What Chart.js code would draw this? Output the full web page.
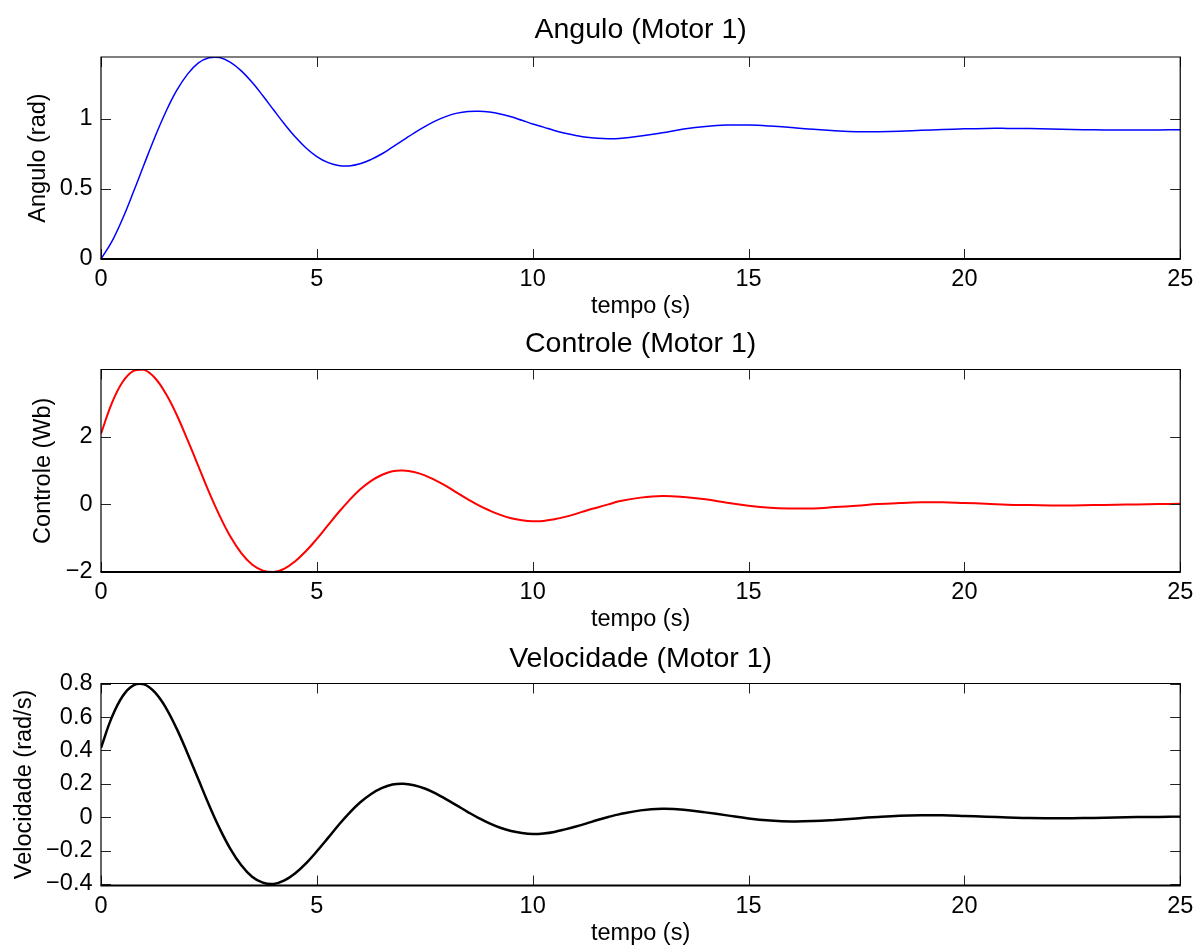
<!DOCTYPE html>
<html><head><meta charset="utf-8">
<script src="https://cdn.jsdelivr.net/npm/chart.js@4.4.1/dist/chart.umd.min.js"></script>
<style>
html,body{margin:0;padding:0;background:#fff;width:1200px;height:952px;overflow:hidden}
canvas{position:absolute;left:0;top:0}
</style></head><body>
<canvas id="c1" width="1200" height="952"></canvas>
<canvas id="c2" width="1200" height="952"></canvas>
<canvas id="c3" width="1200" height="952"></canvas>
<script>
// ---- data ----
const tempo = [0,0.25,0.5,0.75,1,1.25,1.5,1.75,2,2.25,2.5,2.75,3,3.25,3.5,3.75,4,4.25,4.5,4.75,5,5.25,5.5,5.75,6,6.25,6.5,6.75,7,7.25,7.5,7.75,8,8.25,8.5,8.75,9,9.25,9.5,9.75,10,10.25,10.5,10.75,11,11.25,11.5,11.75,12,12.5,13,13.5,14,14.5,15,15.5,16,16.5,17,17.5,18,18.5,19,19.5,20,20.5,21,21.5,22,22.5,23,23.5,24,24.5,25];
const angulo = [0,0.124,0.288,0.478,0.677,0.872,1.050,1.202,1.319,1.399,1.438,1.439,1.405,1.344,1.262,1.166,1.064,0.964,0.872,0.793,0.732,0.690,0.668,0.665,0.680,0.710,0.750,0.799,0.849,0.900,0.946,0.987,1.019,1.042,1.054,1.056,1.050,1.036,1.016,0.991,0.965,0.942,0.918,0.898,0.882,0.869,0.862,0.859,0.861,0.878,0.902,0.928,0.947,0.957,0.957,0.950,0.939,0.926,0.916,0.909,0.909,0.912,0.919,0.925,0.930,0.933,0.933,0.932,0.929,0.925,0.923,0.921,0.921,0.922,0.923];
const controle = [2.09,2.99,3.62,3.95,3.98,3.74,3.28,2.66,1.92,1.15,0.37,-0.34,-0.96,-1.44,-1.78,-1.96,-2.00,-1.90,-1.68,-1.38,-1.02,-0.63,-0.24,0.12,0.44,0.69,0.87,0.98,1.00,0.96,0.86,0.71,0.54,0.34,0.15,-0.03,-0.18,-0.31,-0.41,-0.47,-0.50,-0.49,-0.44,-0.37,-0.28,-0.18,-0.09,0.00,0.09,0.20,0.25,0.22,0.15,0.05,-0.04,-0.10,-0.12,-0.12,-0.08,-0.04,0.01,0.04,0.06,0.06,0.04,0.02,-0.01,-0.02,-0.03,-0.03,-0.02,-0.01,0.00,0.01,0.02];
const velocidade = [0.416,0.598,0.725,0.790,0.796,0.748,0.657,0.532,0.385,0.230,0.075,-0.068,-0.191,-0.288,-0.356,-0.392,-0.400,-0.379,-0.336,-0.276,-0.204,-0.127,-0.048,0.025,0.088,0.138,0.174,0.196,0.201,0.192,0.172,0.143,0.107,0.069,0.031,-0.005,-0.037,-0.063,-0.082,-0.094,-0.100,-0.097,-0.088,-0.073,-0.056,-0.037,-0.017,0.001,0.017,0.041,0.050,0.045,0.029,0.011,-0.007,-0.019,-0.025,-0.023,-0.016,-0.007,0.002,0.009,0.012,0.012,0.008,0.003,-0.001,-0.005,-0.006,-0.006,-0.004,-0.002,0.001,0.002,0.003];

const xTicks = [0,5,10,15,20,25];
const xTickLabels = ['0','5','10','15','20','25'];
const anguloTicks = [0,0.5,1];
const anguloTickLabels = ['0','0.5','1'];
const controleTicks = [-2,0,2];
const controleTickLabels = ['\u22122','0','2'];
const velTicks = [-0.4,-0.2,0,0.2,0.4,0.6,0.8];
const velTickLabels = ['\u22120.4','\u22120.2','0','0.2','0.4','0.6','0.8'];

Chart.defaults.font.family = '"Liberation Sans", Arial, Helvetica, sans-serif';
Chart.defaults.color = '#000';
Chart.defaults.animation = false;

const boxPlugin = {
  id: 'box',
  afterDatasetsDraw(chart) {
    const {ctx, chartArea: a, scales: {x, y}} = chart;
    ctx.save();
    ctx.strokeStyle = '#222';
    ctx.lineWidth = 1;
    ctx.beginPath();
    x.ticks.forEach(t => {
      const px = Math.round(x.getPixelForValue(t.value)) + 0.5;
      ctx.moveTo(px, a.bottom); ctx.lineTo(px, a.bottom - 10);
      ctx.moveTo(px, a.top); ctx.lineTo(px, a.top + 10);
    });
    y.ticks.forEach(t => {
      const py = Math.round(y.getPixelForValue(t.value)) + 0.5;
      ctx.moveTo(a.left, py); ctx.lineTo(a.left + 10, py);
      ctx.moveTo(a.right, py); ctx.lineTo(a.right - 10, py);
    });
    ctx.stroke();
    ctx.strokeStyle = '#000';
    ctx.lineWidth = 1.2;
    ctx.beginPath();
    ctx.moveTo(a.left, a.bottom); ctx.lineTo(a.left, a.top);
    ctx.lineTo(a.right, a.top); ctx.lineTo(a.right, a.bottom);
    ctx.stroke();
    ctx.lineWidth = 2;
    ctx.beginPath();
    ctx.moveTo(a.left - 0.5, a.bottom); ctx.lineTo(a.right + 0.5, a.bottom);
    ctx.stroke();
    ctx.restore();
  }
};

function makeChart(id, o) {
  return new Chart(document.getElementById(id), {
    type: 'line',
    data: {
      datasets: [{
        data: tempo.map((t, i) => ({x: t, y: o.values[i]})),
        borderColor: o.color,
        borderWidth: o.width,
        pointRadius: 0,
        fill: false,
        tension: 0.4
      }]
    },
    options: {
      responsive: false,
      animation: false,
      events: [],
      layout: {padding: {top: o.padTop, bottom: o.padBottom, left: 0, right: 17}},
      plugins: {
        legend: {display: false},
        tooltip: {enabled: false},
        title: {display: true, fullSize: false, text: o.title, font: {size: 28.5, weight: 'normal'}, color: '#000',
                padding: {top: 0, bottom: o.titleGap}}
      },
      scales: {
        x: {
          type: 'linear', min: 0, max: 25,
          afterBuildTicks: s => { s.ticks = xTicks.map(v => ({value: v})); },
          afterFit: s => { s.height = 62; },
          grid: {display: false, drawTicks: false},
          border: {display: false},
          ticks: {autoSkip: false, maxRotation: 0, padding: 6.7, font: {size: 23.5},
                  callback: v => xTickLabels[xTicks.indexOf(v)]},
          title: {display: true, text: 'tempo (s)', font: {size: 23.5}, padding: {top: 0, bottom: 0}}
        },
        y: {
          type: 'linear', min: o.min, max: o.max,
          afterBuildTicks: s => { s.ticks = o.ticks.map(v => ({value: v})); },
          afterFit: s => { s.width = 101; },
          grid: {display: false, drawTicks: false},
          border: {display: false},
          ticks: {autoSkip: false, padding: 8.5, font: {size: 23.5},
                  callback: v => o.tickLabels[o.ticks.indexOf(v)]},
          title: {display: true, text: o.ylabel, font: {size: 23.5}, padding: {top: o.ylabPad, bottom: 0}}
        }
      }
    },
    plugins: [boxPlugin]
  });
}

makeChart('c1', {values: angulo, color: '#0000ff', width: 1.5, title: 'Angulo (Motor 1)',
  ylabel: 'Angulo (rad)', min: 0, max: 1.443, ticks: anguloTicks, tickLabels: anguloTickLabels,
  padTop: 12.9, padBottom: 952 - (259 + 62), titleGap: 9.9, ylabPad: 24.5});
makeChart('c2', {values: controle, color: '#ff0000', width: 2, title: 'Controle (Motor 1)',
  ylabel: 'Controle (Wb)', min: -2, max: 3.99, ticks: controleTicks, tickLabels: controleTickLabels,
  padTop: 326.9, padBottom: 952 - (572 + 62), titleGap: 8.4, ylabPad: 29.5});
makeChart('c3', {values: velocidade, color: '#000000', width: 2.5, title: 'Velocidade (Motor 1)',
  ylabel: 'Velocidade (rad/s)', min: -0.409, max: 0.801, ticks: velTicks, tickLabels: velTickLabels,
  padTop: 641.9, padBottom: 952 - (885.5 + 62), titleGap: 7.4, ylabPad: 10.5});
</script>
</body></html>
